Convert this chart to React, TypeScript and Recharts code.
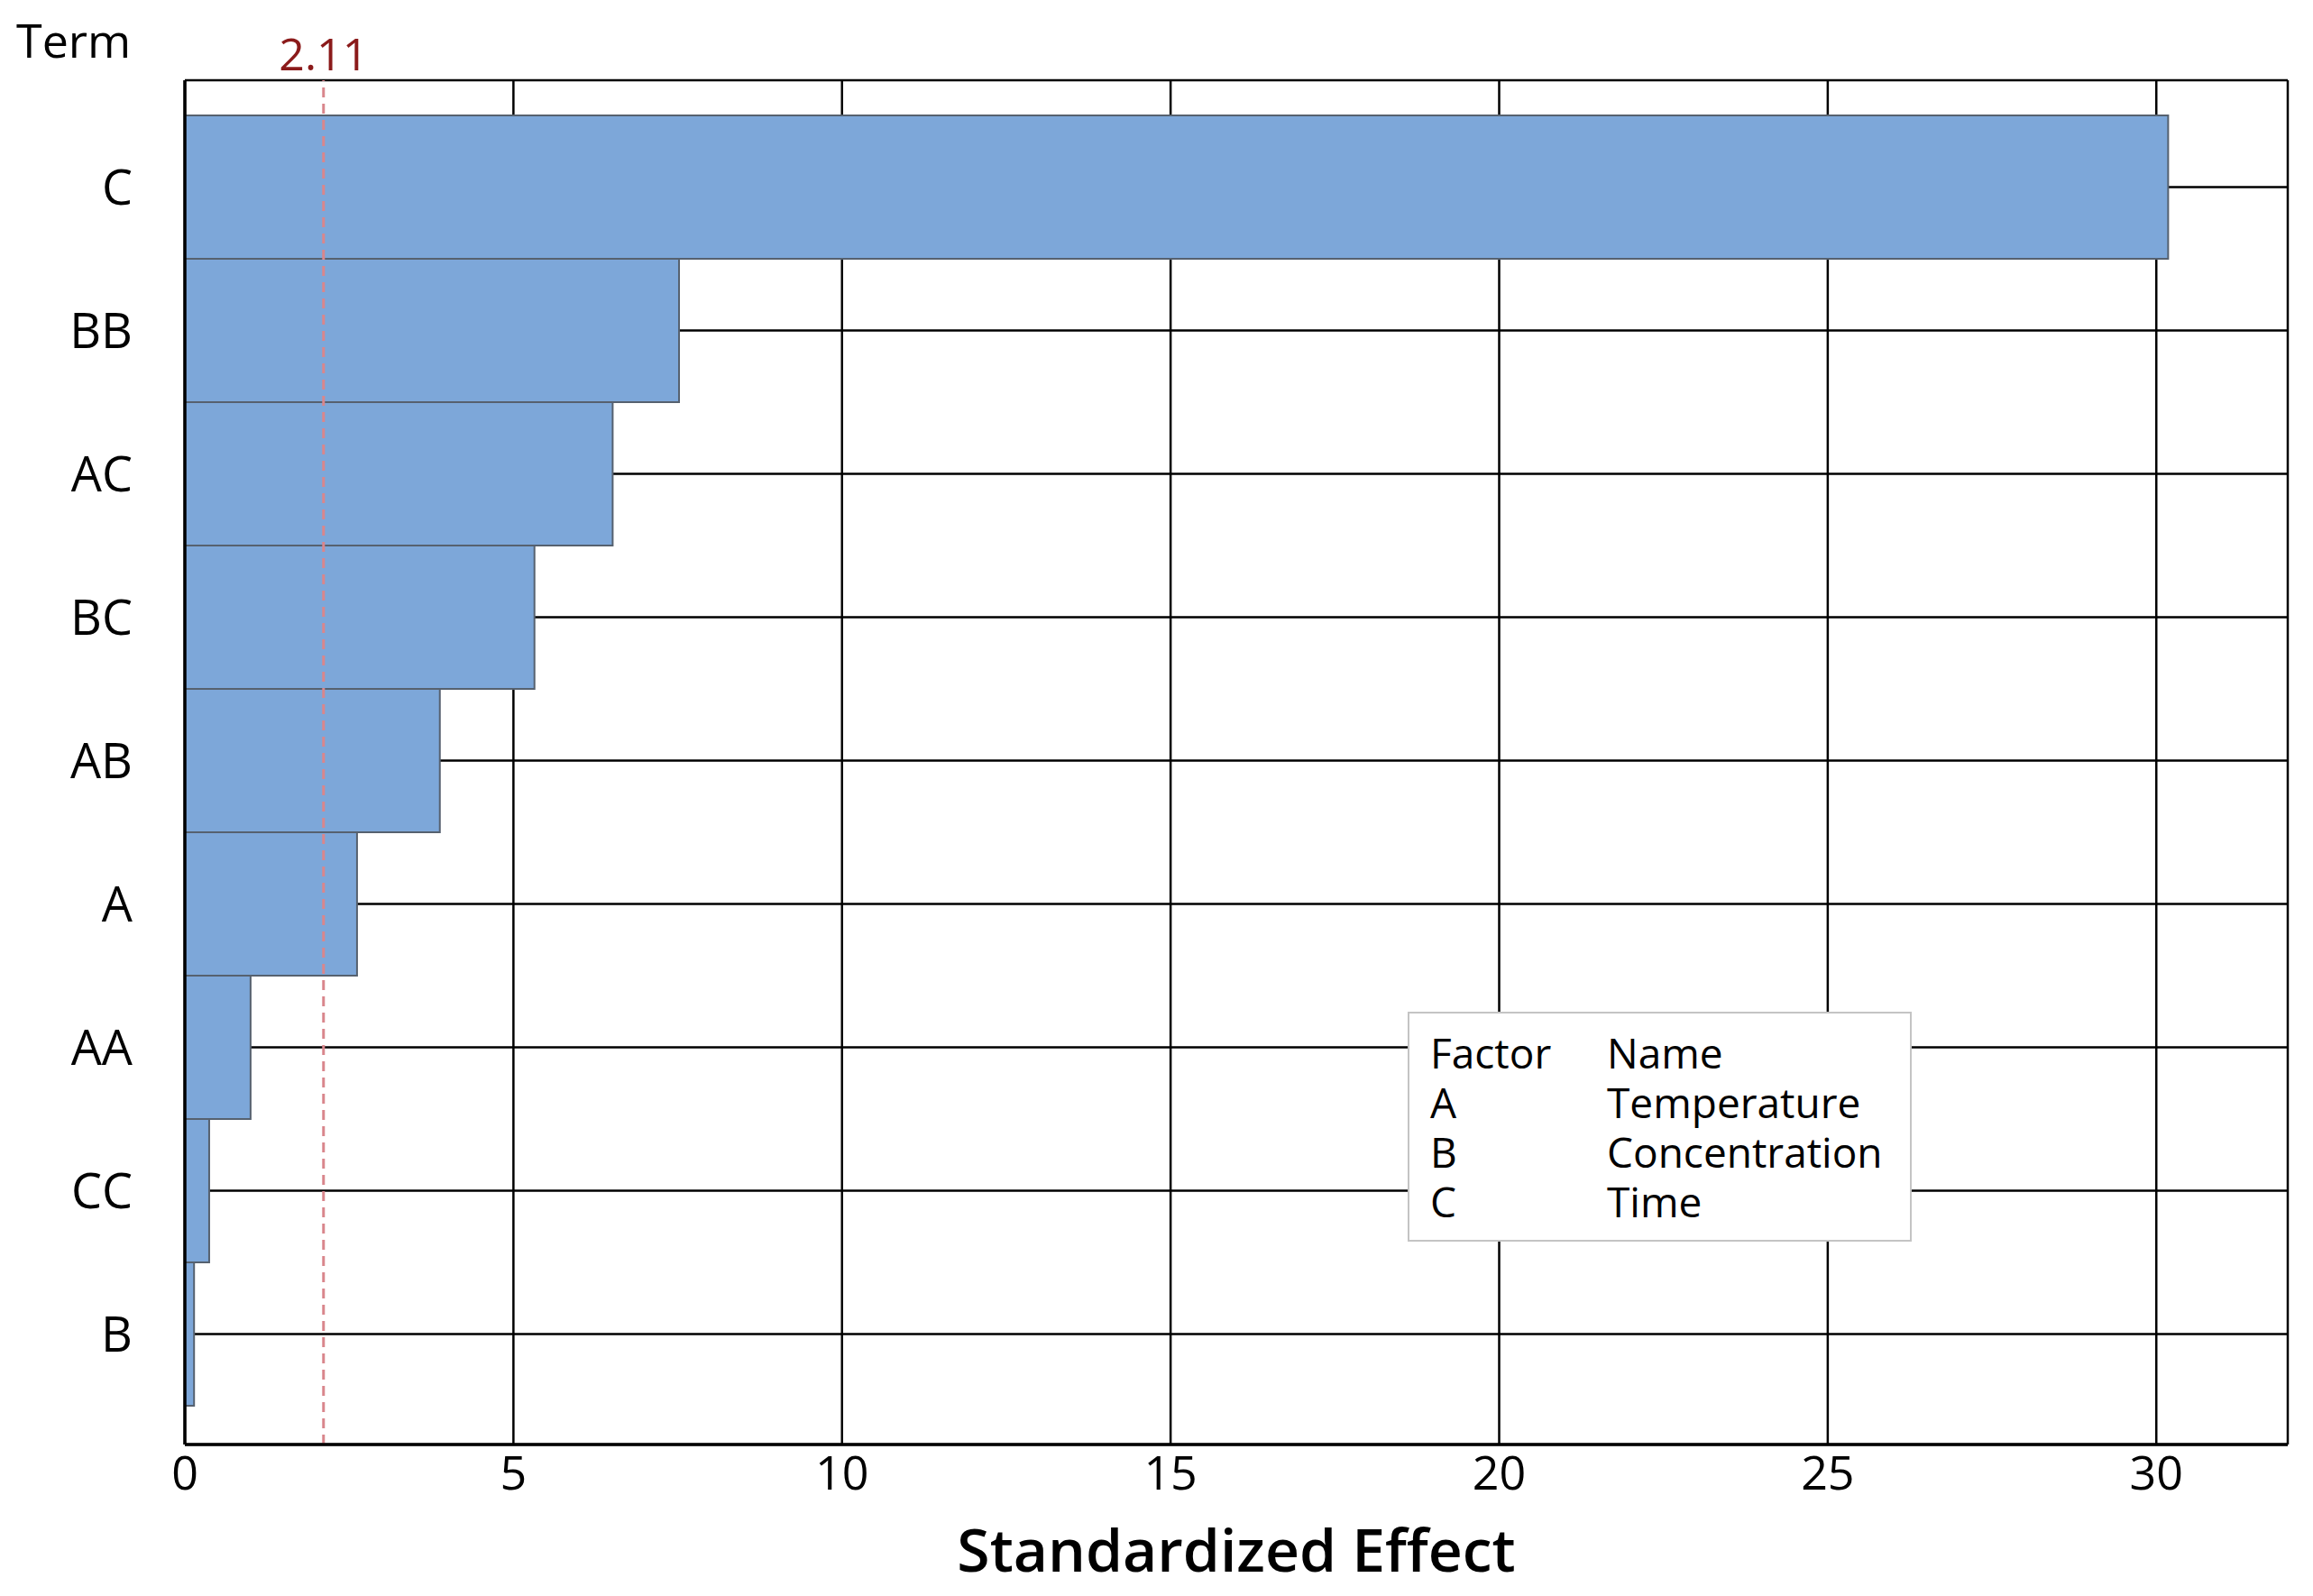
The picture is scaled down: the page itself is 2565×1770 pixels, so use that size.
import React from 'react';
import { BarChart, Bar, XAxis, YAxis, CartesianGrid, ReferenceLine, Label } from 'recharts';

const terms = ['C', 'BB', 'AC', 'BC', 'AB', 'A', 'AA', 'CC', 'B'];
const effects = [30.18, 7.52, 6.51, 5.32, 3.88, 2.62, 1.0, 0.37, 0.14];
const xTicks = [0, 5, 10, 15, 20, 25, 30];
const critical = 2.11;
const factors = ['A', 'B', 'C'];
const factorNames = ['Temperature', 'Concentration', 'Time'];

const data = terms.map((term, i) => ({ term, effect: effects[i] }));

const FONT = '"Open Sans", "Noto Sans", sans-serif';

const App: React.FC = () => {
    return (
        <div style={{ position: 'absolute', left: 0, top: 0, width: 2565, height: 1770, background: '#fff', fontFamily: FONT }}>
            <BarChart
                width={2565}
                height={1770}
                data={data}
                layout="vertical"
                barCategoryGap={0}
                margin={{ top: 89, right: 28, bottom: 18, left: 55 }}
            >
                <CartesianGrid stroke="#000" strokeWidth={2.5} />
                <XAxis
                    type="number"
                    domain={[0, 32]}
                    ticks={xTicks}
                    height={150}
                    tickSize={0}
                    tickMargin={13}
                    axisLine={{ stroke: '#000', strokeWidth: 3.5 }}
                    tick={{ fill: '#000', fontSize: 52, fontFamily: FONT }}
                >
                    <Label
                        value="Standardized Effect"
                        position="insideBottom"
                        offset={9}
                        style={{ fill: '#000', fontSize: 66, fontWeight: 600, fontFamily: FONT }}
                    />
                </XAxis>
                <XAxis
                    xAxisId="top"
                    orientation="top"
                    type="number"
                    domain={[0, 32]}
                    height={0}
                    tick={false}
                    tickLine={false}
                    axisLine={{ stroke: '#000', strokeWidth: 3.5 }}
                />
                <YAxis
                    type="category"
                    dataKey="term"
                    width={150}
                    padding={{ top: 39, bottom: 43 }}
                    tickSize={0}
                    tickMargin={58}
                    axisLine={{ stroke: '#000', strokeWidth: 3.5 }}
                    tick={{ fill: '#000', fontSize: 54, fontWeight: 500, fontFamily: FONT }}
                />
                <YAxis
                    yAxisId="right"
                    orientation="right"
                    type="category"
                    dataKey="term"
                    width={0}
                    tick={false}
                    tickLine={false}
                    axisLine={{ stroke: '#000', strokeWidth: 3.5 }}
                />
                <Bar dataKey="effect" fill="#7DA7D9" stroke="#56616f" strokeWidth={2} isAnimationActive={false} />
                <ReferenceLine
                    x={critical}
                    stroke="#d9868c"
                    strokeWidth={3}
                    strokeDasharray="11 7"
                >
                    <Label
                        value={critical.toFixed(2)}
                        position="top"
                        offset={11}
                        style={{ fill: '#8b1a1a', fontSize: 50, fontWeight: 500, fontFamily: FONT }}
                    />
                </ReferenceLine>
            </BarChart>

            <div style={{ position: 'absolute', left: 18, top: 8, fontSize: 52, fontWeight: 500, lineHeight: '72px', color: '#000' }}>Term</div>

            <div
                style={{
                    position: 'absolute',
                    left: 1561,
                    top: 1122,
                    width: 559,
                    height: 255,
                    background: '#fff',
                    border: '2px solid #c4c4c4',
                    boxSizing: 'border-box',
                    fontSize: 46,
                    color: '#000',
                }}
            >
                <div style={{ position: 'absolute', left: 23, top: 16, lineHeight: '55px' }}>
                    <div>Factor</div>
                    {factors.map((f) => (
                        <div key={f}>{f}</div>
                    ))}
                </div>
                <div style={{ position: 'absolute', left: 219, top: 16, lineHeight: '55px' }}>
                    <div>Name</div>
                    {factorNames.map((n) => (
                        <div key={n}>{n}</div>
                    ))}
                </div>
            </div>
        </div>
    );
};

export default App;
